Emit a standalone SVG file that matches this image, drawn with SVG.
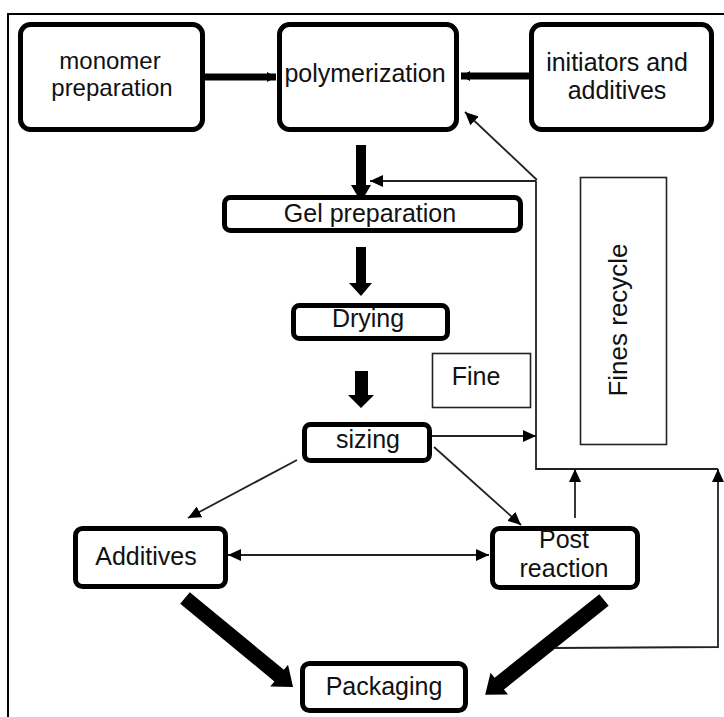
<svg xmlns="http://www.w3.org/2000/svg" width="724" height="717" viewBox="0 0 724 717">
<style>
.box{fill:#fff;stroke:#000;stroke-width:5}
.thin{fill:#fff;stroke:#222;stroke-width:1.6}
.t{font-family:"Liberation Sans",Arial,sans-serif;font-size:25px;fill:#111;text-anchor:middle}
.c{fill:none;stroke:#222;stroke-width:1.8}
.thick{fill:#000}
</style>
<defs>
<marker id="ah" markerUnits="userSpaceOnUse" markerWidth="14" markerHeight="12" refX="13" refY="6" orient="auto-start-reverse">
<path d="M0,0 L13,6 L0,12 Z" fill="#000"/>
</marker>
<marker id="sh" markerUnits="userSpaceOnUse" markerWidth="10" markerHeight="12" refX="9" refY="6" orient="auto">
<path d="M0,1 L9,6 L0,11 Z" fill="#000"/>
</marker>
</defs>
<rect width="724" height="717" fill="#fff"/>
<rect x="8" y="14" width="800" height="800" fill="none" stroke="#000" stroke-width="2"/>

<g id="connectors">
<line x1="205" y1="77" x2="276" y2="77" stroke="#000" stroke-width="7" marker-end="url(#sh)"/>
<line x1="529" y1="76" x2="461" y2="76" stroke="#000" stroke-width="7" marker-end="url(#sh)"/>
<path class="thick" d="M356,145 H366 V185 H371 L361,202 L351,185 H356 Z"/>
<path class="thick" d="M356,247 H366 V283 H372 L361,296 L349,283 H356 Z"/>
<path class="thick" d="M355,371 H368 V395 H374 L361,408 L348,395 H355 Z"/>
<path class="thick" transform="translate(185,598) rotate(39.5)" d="M0,-7.5 H122 V-14 L140,0 L122,14 V7.5 H0 Z"/>
<path class="thick" transform="translate(604,600) rotate(141.4)" d="M0,-7.5 H134 V-14 L152,0 L134,14 V7.5 H0 Z"/>
<path class="c" d="M718,469 H536 V181"/>
<line class="c" x1="536" y1="181" x2="370" y2="181" marker-end="url(#ah)"/>
<line class="c" x1="537" y1="180" x2="465" y2="112" marker-end="url(#ah)"/>
<line class="c" x1="432" y1="436" x2="536" y2="436" marker-end="url(#ah)"/>
<line class="c" x1="297" y1="460" x2="188" y2="518" marker-end="url(#ah)"/>
<line class="c" x1="434" y1="447" x2="521" y2="525" marker-end="url(#ah)"/>
<line class="c" x1="228" y1="555" x2="489" y2="555" marker-start="url(#ah)" marker-end="url(#ah)"/>
<line class="c" x1="575" y1="518" x2="575" y2="469" marker-end="url(#ah)"/>
<path class="c" d="M555,648 L718,647 V469" marker-end="url(#ah)"/>
</g>

<g id="monomer">
<rect class="box" x="20.5" y="24.5" width="182" height="105" rx="10"/>
<text class="t" x="110" y="69" style="font-size:24px">monomer</text>
<text class="t" x="112" y="96" style="font-size:24px">preparation</text>
</g>
<g id="polymerization">
<rect class="box" x="279.5" y="24.5" width="177" height="105" rx="10"/>
<text class="t" x="365" y="82">polymerization</text>
</g>
<g id="initiators">
<rect class="box" x="531.5" y="24.5" width="180" height="105" rx="10"/>
<text class="t" x="617" y="71">initiators and</text>
<text class="t" x="617" y="99">additives</text>
</g>
<g id="gel">
<rect class="box" x="224.5" y="197.5" width="296" height="33" rx="6"/>
<text class="t" x="370" y="222">Gel preparation</text>
</g>
<g id="drying">
<rect class="box" x="293.5" y="305.5" width="154" height="33" rx="6"/>
<text class="t" x="368" y="327">Drying</text>
</g>
<g id="fine">
<rect class="thin" x="432.5" y="353.5" width="98" height="54"/>
<text class="t" x="476" y="385">Fine</text>
</g>
<g id="fines-recycle">
<rect class="thin" x="580.5" y="177.5" width="86" height="267"/>
<text class="t" x="627" y="320" style="font-size:26px" transform="rotate(-90 627 320)">Fines recycle</text>
</g>
<g id="sizing">
<rect class="box" x="304.5" y="424.5" width="125" height="36" rx="6"/>
<text class="t" x="368" y="448">sizing</text>
</g>
<g id="additives">
<rect class="box" x="75.5" y="528.5" width="150" height="58" rx="7"/>
<text class="t" x="146" y="565">Additives</text>
</g>
<g id="post-reaction">
<rect class="box" x="492.5" y="528.5" width="145" height="59" rx="7"/>
<text class="t" x="564" y="548">Post</text>
<text class="t" x="564" y="577">reaction</text>
</g>
<g id="packaging">
<rect class="box" x="302.5" y="663.5" width="163" height="47" rx="7"/>
<text class="t" x="384" y="695">Packaging</text>
</g>
</svg>
